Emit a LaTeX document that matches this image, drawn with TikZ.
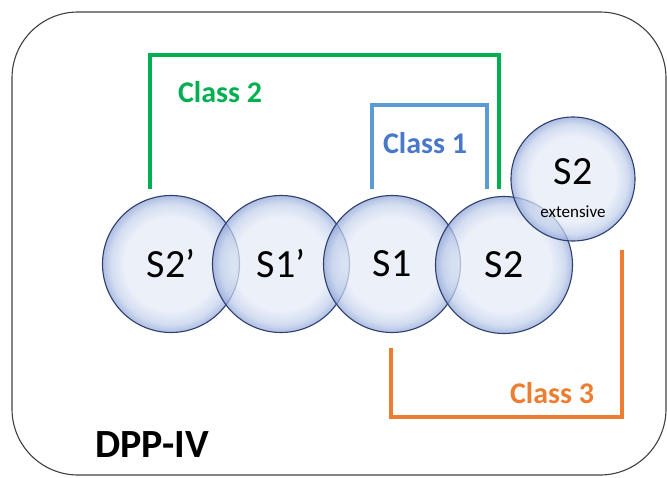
\documentclass[tikz,border=0pt]{standalone}
\usepackage{fontspec}
\setmainfont{Carlito}
\definecolor{bubin}{HTML}{E4EBF7}
\definecolor{bubmid}{HTML}{C2D0EC}
\definecolor{bubout}{HTML}{8FA4D6}
\definecolor{bubline}{HTML}{2E3F70}
\definecolor{cgreen}{HTML}{00B050}
\definecolor{cblue}{HTML}{5B9BD5}
\definecolor{cbluetext}{HTML}{4A78C8}
\definecolor{corange}{HTML}{ED7D31}
\definecolor{framegray}{HTML}{404040}
\pgfdeclareradialshading{bubbleshade}{\pgfpoint{0bp}{0bp}}{color(0bp)=(bubin); color(17bp)=(bubin); color(22bp)=(bubmid); color(25bp)=(bubout); color(50bp)=(bubout)}
\tikzset{
  bubble/.style={circle, shading=bubbleshade, fill opacity=0.72, text opacity=1, draw=bubline, draw opacity=1, line width=1.1pt, inner sep=0pt, font=\fontsize{40}{44}\selectfont},
  bracket/.style={line width=4.5pt, line join=miter, line cap=rect},
  lab/.style={font=\bfseries\fontsize{30}{34}\selectfont, inner sep=0pt},
}
\begin{document}
\begin{tikzpicture}[x=1pt,y=-1pt]
\useasboundingbox (0,0) rectangle (667,477);
\draw[framegray, line width=1.1pt, rounded corners=66pt] (12,12) rectangle (666,475);

% circles
\node[bubble, minimum size=137pt] (s2p) at (171,264) {S2’};
\node[bubble, minimum size=137pt] (s1p) at (281,264) {S1’};
\node[bubble, minimum size=137pt] (s1) at (392,264) {S1};
\node[bubble, minimum size=137pt] (s2) at (504,265) {S2};
\node[bubble, minimum size=124pt] (s2e) at (573,179) {};
\node[font=\fontsize{40}{44}\selectfont, inner sep=0pt] (s2etxt) at (573,172) {S2};
\node[font=\fontsize{17}{20}\selectfont, inner sep=0pt] (exttxt) at (573,212) {extensive};

% Class 2 bracket
\coordinate (g1) at (150,187);
\coordinate (g2) at (150,55);
\coordinate (g3) at (499,55);
\coordinate (g4) at (499,187);
\draw[bracket, cgreen] (g1) -- (g2) -- (g3) -- (g4);
\node[lab, text=cgreen] (c2) at (220,92) {Class 2};

% Class 1 bracket
\coordinate (b1) at (372,187);
\coordinate (b2) at (372,105);
\coordinate (b3) at (487,105);
\coordinate (b4) at (487,187);
\draw[bracket, cblue] (b1) -- (b2) -- (b3) -- (b4);
\node[lab, text=cbluetext] (c1) at (425,143) {Class 1};

% Class 3 bracket
\coordinate (o1) at (391,350);
\coordinate (o2) at (391,417);
\coordinate (o3) at (622,417);
\coordinate (o4) at (622,252);
\draw[bracket, corange] (o1) -- (o2) -- (o3) -- (o4);
\node[lab, text=corange] (c3) at (552,393) {Class 3};

\node[font=\bfseries\fontsize{40}{44}\selectfont, inner sep=0pt] (dpp) at (152,445) {DPP-IV};
\end{tikzpicture}
\end{document}
